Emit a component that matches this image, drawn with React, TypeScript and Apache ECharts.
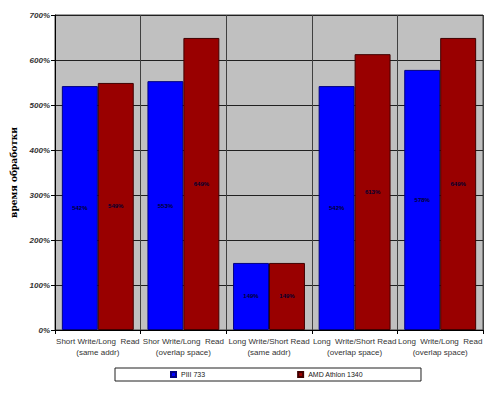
import React, { useEffect, useRef } from "react";
import * as echarts from "echarts";

const categories = [
  "Short Write/Long  Read\n(same addr)",
  "Shor Write/Long  Read\n(overlap space)",
  "Long Write/Short Read\n(same addr)",
  "Long  Write/Short Read\n(overlap space)",
  "Long  Write/Long  Read\n(overlap space)",
];
const piiiValues = [542, 553, 149, 542, 578];
const athlonValues = [549, 649, 149, 613, 649];
const seriesNames = ["PIII 733", "AMD Athlon 1340"];
const yTicks = { min: 0, max: 700, interval: 100 };
const yTitle = "время обработки";

export default function App() {
  const ref = useRef<HTMLDivElement>(null);
  useEffect(() => {
    const chart = echarts.init(ref.current!, null, { renderer: "svg" });
    const label = {
      show: true,
      position: "inside",
      fontSize: 6,
      fontWeight: "bold",
      color: "#000030",
      fontFamily: "Liberation Sans",
      formatter: (p: any) => p.value + "%",
    };
    chart.setOption({
      animation: false,
      backgroundColor: "#ffffff",
      textStyle: { fontFamily: "Liberation Sans" },
      grid: {
        left: 55,
        right: 16,
        top: 15,
        bottom: 63,
        show: true,
        backgroundColor: "#c0c0c0",
        borderColor: "#404040",
        borderWidth: 1,
      },
      legend: {
        bottom: 12,
        left: 115,
        width: 303,
        data: seriesNames,
        itemWidth: 5,
        itemHeight: 5,
        itemGap: 92,
        icon: "rect",
        borderColor: "#202020",
        borderWidth: 1,
        padding: [3, 58, 3, 55],
        textStyle: { fontSize: 7, color: "#202020" },
        backgroundColor: "#fff",
      },
      xAxis: {
        type: "category",
        data: categories,
        axisLine: { lineStyle: { color: "#000" } },
        axisTick: { show: true, length: 4, lineStyle: { color: "#000" } },
        splitLine: { show: true, lineStyle: { color: "#404040", width: 1 } },
        axisLabel: { fontSize: 8, color: "#333", lineHeight: 11, margin: 6, interval: 0 },
      },
      yAxis: {
        type: "value",
        min: yTicks.min,
        max: yTicks.max,
        interval: yTicks.interval,
        name: yTitle,
        nameLocation: "middle",
        nameGap: 33,
        nameTextStyle: { fontSize: 9, fontWeight: "bold", color: "#000", fontFamily: "DejaVu Serif" },
        axisLine: { show: true, lineStyle: { color: "#000" } },
        axisTick: { show: true, length: 4, lineStyle: { color: "#000" } },
        splitLine: { show: true, lineStyle: { color: "#202020", width: 1 } },
        axisLabel: {
          fontSize: 8,
          color: "#333",
          fontStyle: "italic",
          fontWeight: "bold",
          margin: 5,
          formatter: (v: number) => v + "%",
        },
      },
      series: [
        {
          name: seriesNames[0],
          type: "bar",
          data: piiiValues,
          barGap: "0%",
          barCategoryGap: "16%",
          itemStyle: { color: "#0000ff", borderColor: "#000080", borderWidth: 1 },
          label,
        },
        {
          name: seriesNames[1],
          type: "bar",
          data: athlonValues,
          itemStyle: { color: "#990000", borderColor: "#400000", borderWidth: 1 },
          label,
        },
      ],
    });
    return () => chart.dispose();
  }, []);
  return <div ref={ref} style={{ width: 499, height: 393, position: "absolute", left: 0, top: 0 }} />;
}
